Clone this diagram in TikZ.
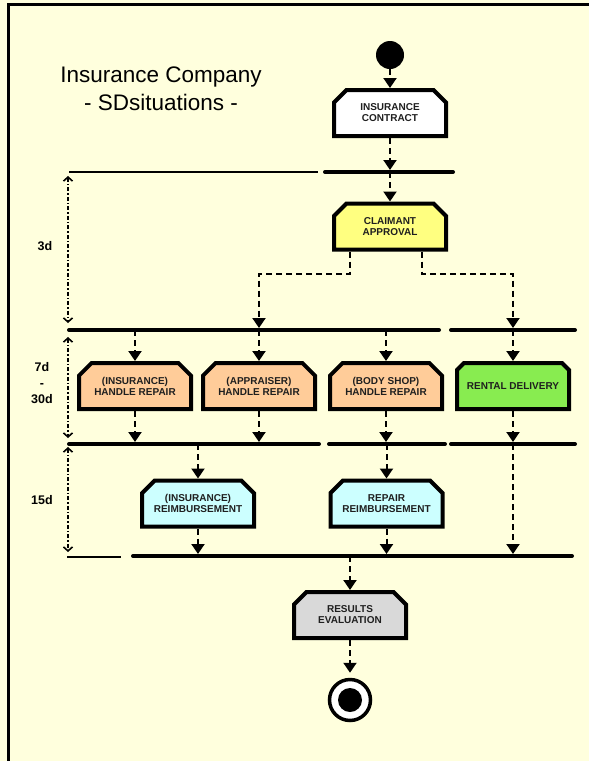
\documentclass[tikz,border=0pt]{standalone}
\usepackage{fontspec}
\setmainfont{Liberation Sans}
\usetikzlibrary{arrows.meta,shapes.misc}

\definecolor{paper}{RGB}{255,255,221}
\definecolor{contractfill}{RGB}{255,255,255}
\definecolor{approvalfill}{RGB}{255,255,128}
\definecolor{repairfill}{RGB}{255,204,153}
\definecolor{rentalfill}{RGB}{136,236,80}
\definecolor{reimbfill}{RGB}{204,255,255}
\definecolor{evalfill}{RGB}{217,217,217}

\tikzset{
  actbox/.style={chamfered rectangle,
    chamfered rectangle corners={north west,north east},
    chamfered rectangle xsep=10pt,
    draw, line width=4pt, fill=#1,
    minimum width=112pt, minimum height=46pt, inner sep=0pt,
    align=center, text=black!88,
    font=\bfseries\fontsize{10}{11}\selectfont},
  flow/.style={line width=2pt, dash pattern=on 6pt off 4pt,
    -{Triangle[length=10pt,width=13pt]}},
  bar/.style={line width=4pt, line cap=round},
  thinbar/.style={line width=1.8pt},
  span/.style={line width=1.6pt, dash pattern=on 4pt off 2pt on 1.5pt off 2pt,
    {Straight Barb[length=4pt,width=9pt]}-{Straight Barb[length=4pt,width=9pt]}},
  spanlabel/.style={font=\bfseries\fontsize{12.5}{16}\selectfont, align=center},
}

\begin{document}
\begin{tikzpicture}[x=1pt, y=-1pt]
  % page and frame
  \useasboundingbox (0,0) rectangle (589,761);
  \fill[paper] (0,0) rectangle (589,761);
  \draw[line width=3pt] (592,4) -- (8,4) -- (8,765);

  % title
  \node[font=\fontsize{22.5}{28}\selectfont, align=center] (title) at (161,89)
    {Insurance Company\\- SDsituations -};

  % initial and final states
  \node[circle, fill=black, minimum size=28pt, inner sep=0pt] (start) at (390,55) {};
  \node[circle, draw, fill=white, line width=3.5pt, minimum size=41pt, inner sep=0pt] (finish) at (350,700) {};
  \node[circle, fill=black, minimum size=24pt, inner sep=0pt] (finishdot) at (finish.center) {};

  % activities
  \node[actbox=contractfill] (contract)   at (390,113)   {INSURANCE\\CONTRACT};
  \node[actbox=approvalfill] (approval)   at (390,226.5) {CLAIMANT\\APPROVAL};
  \node[actbox=repairfill]   (insrep)     at (135,386)   {(INSURANCE)\\HANDLE REPAIR};
  \node[actbox=repairfill]   (apprep)     at (259,386)   {(APPRAISER)\\HANDLE REPAIR};
  \node[actbox=repairfill]   (bodyrep)    at (386,386)   {(BODY SHOP)\\HANDLE REPAIR};
  \node[actbox=rentalfill]   (rental)     at (513,386)   {RENTAL DELIVERY};
  \node[actbox=reimbfill]    (insreimb)   at (198,503.5) {(INSURANCE)\\REIMBURSEMENT};
  \node[actbox=reimbfill]    (repreimb)   at (386.5,503.5) {REPAIR\\REIMBURSEMENT};
  \node[actbox=evalfill]     (evaluation) at (350,615)   {RESULTS\\EVALUATION};

  % synchronisation bar levels
  \coordinate (bar1) at (0,172);
  \coordinate (bar2) at (0,330);
  \coordinate (bar3) at (0,444);
  \coordinate (bar4) at (0,556);

  % synchronisation bars
  \draw[thinbar] (69,172) -- (318,172);
  \draw[bar] (325,172) -- (453,172);
  \draw[bar] (69,330) -- (439,330);
  \draw[bar] (451,330) -- (575,330);
  \draw[bar] (69,444) -- (319,444);
  \draw[bar] (329,444) -- (445,444);
  \draw[bar] (451,444) -- (575,444);
  \draw[thinbar] (67,557) -- (121,557);
  \draw[bar] (133,556) -- (572,556);

  % control flow
  \draw[flow] (start) -- (contract.north);
  \draw[flow, shorten >=2pt] (contract.south) -- (contract.south |- bar1);
  \draw[flow] (contract.south |- bar1) -- (approval.north);
  \draw[flow, shorten >=2pt] ([xshift=-40pt]approval.south) -- ++(0,22) -| (apprep.north |- bar2);
  \draw[flow, shorten >=2pt] ([xshift=32pt]approval.south) -- ++(0,22) -| (rental.north |- bar2);
  \foreach \b in {insrep, apprep, bodyrep, rental}
    \draw[flow] (\b.north |- bar2) -- (\b.north);
  \foreach \b in {insrep, apprep, bodyrep, rental}
    \draw[flow, shorten >=2pt] (\b.south) -- (\b.south |- bar3);
  \draw[flow] (insreimb.north |- bar3) -- (insreimb.north);
  \draw[flow] (repreimb.north |- bar3) -- (repreimb.north);
  \draw[flow, shorten >=2pt] (insreimb.south) -- (insreimb.south |- bar4);
  \draw[flow, shorten >=2pt] (repreimb.south) -- (repreimb.south |- bar4);
  \draw[flow, shorten >=2pt] (rental.south |- bar3) -- (rental.south |- bar4);
  \draw[flow] (evaluation.north |- bar4) -- (evaluation.north);
  \draw[flow, shorten >=5pt] (evaluation.south) -- (finish.north);

  % durations
  \coordinate (s1a) at (68,176);
  \coordinate (s1b) at (68,323);
  \coordinate (s2a) at (68,337);
  \coordinate (s2b) at (68,438);
  \coordinate (s3a) at (68,447);
  \coordinate (s3b) at (68,552);
  \draw[span] (s1a) -- (s1b);
  \draw[span] (s2a) -- (s2b);
  \draw[span] (s3a) -- (s3b);
  \node[spanlabel] (lab3d)  at (45,246) {3d};
  \node[spanlabel] (lab7d)  at (42,383) {7d\\-\\30d};
  \node[spanlabel] (lab15d) at (42,500) {15d};
\end{tikzpicture}
\end{document}
